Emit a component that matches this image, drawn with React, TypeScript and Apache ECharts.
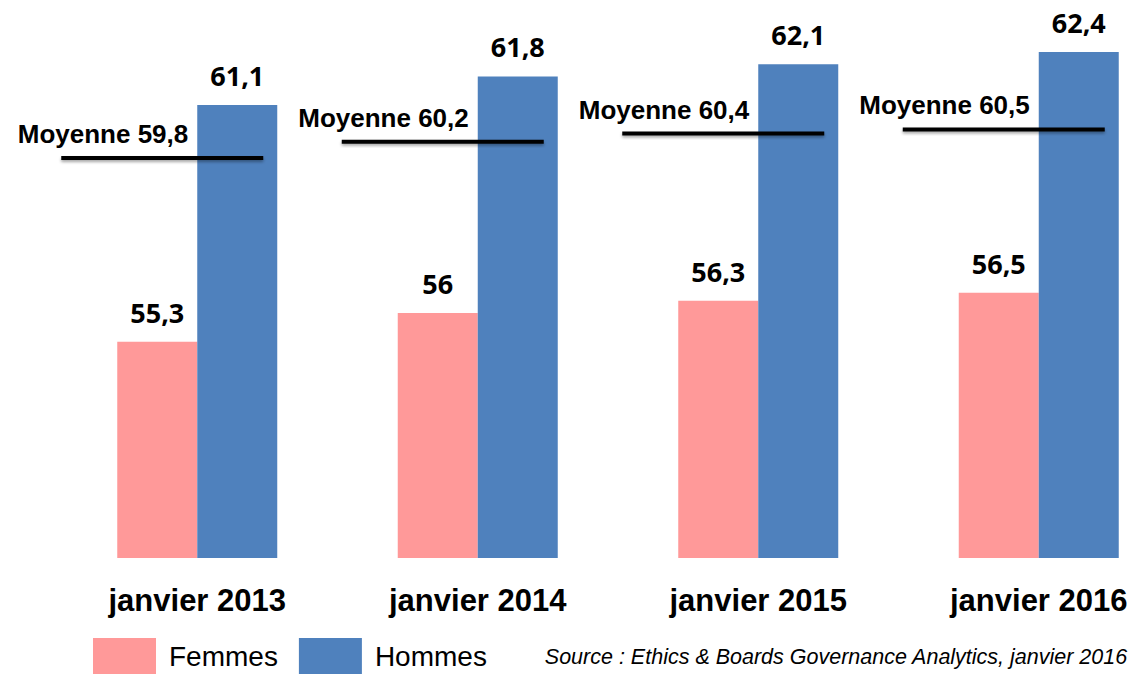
import React, { useEffect, useRef } from "react";
import * as echarts from "echarts";

const categories = ["janvier 2013", "janvier 2014", "janvier 2015", "janvier 2016"];
const femmes = [55.3, 56, 56.3, 56.5];
const hommes = [61.1, 61.8, 62.1, 62.4];
const moyennes = [59.8, 60.2, 60.4, 60.5];
const sourceText = "Source : Ethics & Boards Governance Analytics, janvier 2016";

const fmt = (v: number) => String(v).replace(".", ",");

export default function App() {
  const ref = useRef<HTMLDivElement>(null);
  useEffect(() => {
    document.body.style.margin = "0";
    const chart = echarts.init(ref.current!, null, { renderer: "svg" });
    const valueLabel = {
      show: true,
      position: "top",
      distance: 16,
      fontFamily: "Open Sans",
      fontWeight: "bold",
      fontSize: 27,
      color: "#000",
      formatter: (p: any) => fmt(p.value),
    };
    chart.setOption({
      animation: false,
      backgroundColor: "#fff",
      grid: {
        left: 57,
        width: 1122,
        top: 7,
        bottom: 118,
        containLabel: false,
        outerBoundsMode: "none",
      },
      xAxis: {
        type: "category",
        data: categories,
        axisLine: { show: false },
        axisTick: { show: false },
        splitLine: { show: false },
        axisLabel: {
          fontFamily: "Liberation Sans, Arial",
          fontWeight: "bold",
          fontSize: 31,
          color: "#000",
          margin: 27,
        },
      },
      yAxis: {
        type: "value",
        min: 50,
        max: 63.5,
        show: false,
        splitLine: { show: false },
      },
      legend: {
        data: ["Femmes", "Hommes"],
        left: 93,
        top: 638,
        icon: "rect",
        itemWidth: 63,
        itemHeight: 36,
        itemGap: 21,
        padding: 0,
        textStyle: {
          fontFamily: "Liberation Sans, Arial",
          fontSize: 28,
          color: "#000",
          padding: [8, 0, 0, 8],
        },
      },
      series: [
        {
          name: "Femmes",
          type: "bar",
          data: femmes,
          barWidth: 80,
          barGap: "0%",
          itemStyle: { color: "#FF9999" },
          label: valueLabel,
        },
        {
          name: "Hommes",
          type: "bar",
          data: hommes,
          barWidth: 80,
          barGap: "0%",
          itemStyle: { color: "#4F81BD" },
          label: valueLabel,
        },
        {
          name: "Moyenne",
          type: "custom",
          data: moyennes.map((m, i) => [i, m]),
          z: 5,
          clip: false,
          renderItem: (params: any, api: any) => {
            const c = api.coord([api.value(0), api.value(1)]);
            return {
              type: "group",
              children: [
                {
                  type: "rect",
                  shape: { x: c[0] - 136, y: c[1] - 2, width: 202, height: 4 },
                  style: {
                    fill: "#000",
                    shadowBlur: 3,
                    shadowColor: "rgba(0,0,0,0.35)",
                    shadowOffsetY: 2,
                  },
                },
                {
                  type: "text",
                  x: c[0] - 9,
                  y: c[1] - 24,
                  style: {
                    text: "Moyenne " + fmt(api.value(1)),
                    align: "right",
                    verticalAlign: "middle",
                    fontFamily: "Liberation Sans, Arial",
                    fontWeight: "bold",
                    fontSize: 26,
                    fill: "#000",
                  },
                },
              ],
            };
          },
        },
      ],
      graphic: [
        {
          type: "text",
          right: 4,
          top: 646,
          style: {
            text: sourceText,
            fontFamily: "Liberation Sans, Arial",
            fontStyle: "italic",
            fontSize: 21.5,
            fill: "#000",
          },
        },
      ],
    });
    return () => chart.dispose();
  }, []);
  return <div ref={ref} style={{ width: 1132, height: 676 }} />;
}
